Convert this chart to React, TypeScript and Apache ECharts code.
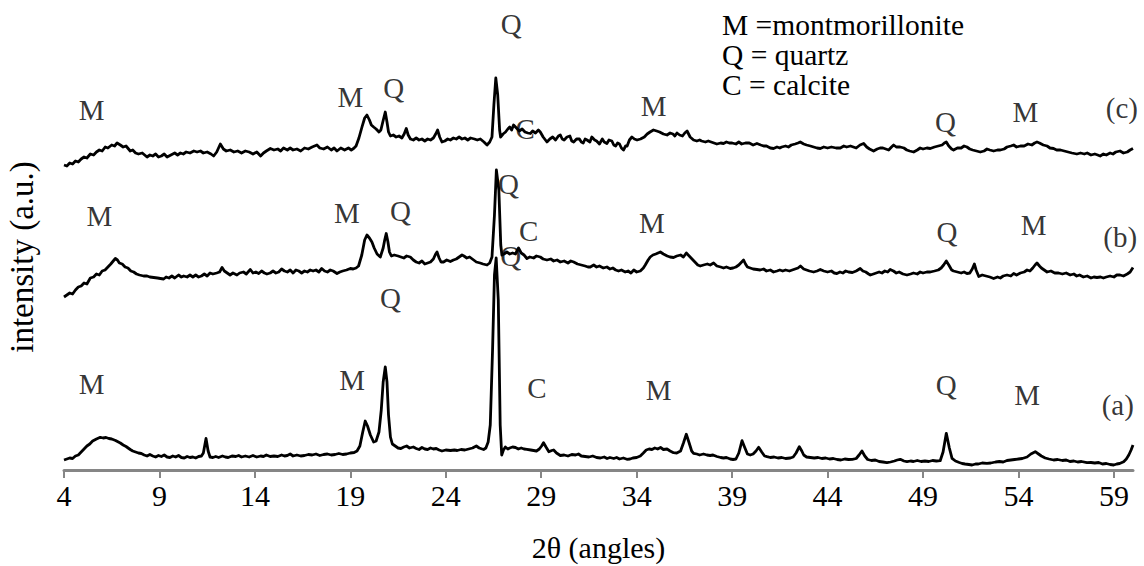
import React, { useEffect, useRef } from "react";
import * as echarts from "echarts";

// 2θ (deg) and intensity (a.u., offset traces as drawn)
const traceA: number[][] = [
  [4.0,10],[4.15,11],[4.3,12],[4.45,11.5],[4.6,14],[4.75,15],[4.9,18],[5.05,21],[5.2,24],[5.35,26],[5.5,29],[5.7,31],[5.9,32.7],[6.05,32],[6.2,32.5],[6.35,31.5],[6.5,31],[6.7,29.5],[6.95,27],[7.1,25],[7.25,23.5],[7.47,20.5],[7.6,19],[7.75,18],[7.9,17],[8.05,16.5],[8.2,15],[8.35,14],[8.5,15.5],[8.65,14],[8.8,13],[8.95,14.5],[9.1,13.5],[9.25,15],[9.4,13],[9.55,12.5],[9.7,14],[9.85,13],[10.0,14.5],[10.15,12.5],[10.3,12],[10.45,13.5],[10.6,12.5],[10.75,13],[10.9,12],[11.05,13.5],[11.2,14],[11.3,17],[11.44,31.5],[11.55,19],[11.65,13],[11.8,12.5],[11.95,13.5],[12.1,12.5],[12.3,14],[12.45,13],[12.6,12.5],[12.8,14],[13.0,13.5],[13.15,14.5],[13.3,13],[13.5,14],[13.7,13],[13.9,14.5],[14.1,13],[14.3,14],[14.45,13.5],[14.6,15],[14.8,13.5],[15.0,14],[15.2,13.5],[15.4,15],[15.55,14],[15.7,14.5],[15.85,16],[16.0,14],[16.2,15],[16.4,14],[16.6,14.5],[16.8,15.5],[17.0,15],[17.2,16],[17.4,14.5],[17.6,15.5],[17.8,16],[18.0,15],[18.2,15.5],[18.4,16.5],[18.6,15.5],[18.8,16],[19.0,17],[19.2,17.5],[19.35,19],[19.5,24],[19.65,38],[19.78,49],[19.9,44],[20.05,35],[20.22,28],[20.35,29],[20.5,38],[20.62,60],[20.72,88],[20.83,103],[20.92,88],[21.0,55],[21.1,33],[21.2,26],[21.35,24],[21.5,22],[21.65,21.5],[21.8,23],[21.95,24],[22.1,22],[22.3,23],[22.45,21.5],[22.6,20.5],[22.75,22.5],[22.9,21],[23.05,20.5],[23.2,22],[23.35,21],[23.5,21.5],[23.65,20],[23.8,19],[24.0,20],[24.25,19.5],[24.45,20],[24.6,19.5],[24.8,20.5],[25.0,20],[25.2,21],[25.4,22],[25.6,24],[25.75,22],[25.98,20.5],[26.1,22],[26.22,28],[26.33,45],[26.45,120],[26.55,195],[26.64,212],[26.75,170],[26.85,45],[26.93,15],[27.02,20],[27.12,23],[27.25,21],[27.35,22],[27.5,23],[27.65,22.5],[27.8,21],[27.95,22],[28.1,21],[28.25,20.7],[28.45,20],[28.6,19.5],[28.75,19],[28.9,21],[29.02,24],[29.12,27.3],[29.25,23],[29.4,18.3],[29.55,19.5],[29.65,20],[29.8,17],[30.0,14.5],[30.2,15],[30.4,14],[30.6,15.5],[30.8,15],[30.95,16],[31.1,14],[31.3,13.5],[31.5,13],[31.7,14],[31.9,12.5],[32.1,12],[32.3,13],[32.45,11.5],[32.6,12.5],[32.8,11.5],[32.95,12.5],[33.1,11],[33.3,12],[33.49,10.7],[33.65,11],[33.8,12],[34.0,12.5],[34.19,14],[34.35,17],[34.5,20],[34.65,21],[34.8,20.5],[34.95,22],[35.1,21],[35.25,22.5],[35.4,20.5],[35.59,21],[35.75,19],[35.93,17.3],[36.1,17],[36.3,19],[36.45,27],[36.6,35.7],[36.75,27],[36.88,19],[36.98,16.7],[37.15,16],[37.3,15],[37.5,16],[37.68,15],[37.85,14.5],[38.0,15],[38.2,13.5],[38.4,12.5],[38.55,12],[38.7,12.5],[38.9,11],[39.05,10.5],[39.2,11],[39.35,17],[39.52,29.3],[39.65,23],[39.8,16],[39.95,15],[40.1,16],[40.25,19],[40.39,22.7],[40.55,18],[40.7,14],[40.83,13.3],[41.0,12.5],[41.2,13],[41.4,12],[41.6,12.5],[41.8,11.5],[42.05,12],[42.2,13],[42.35,17],[42.52,23.3],[42.65,19],[42.75,15],[42.9,13],[43.1,12.5],[43.3,12],[43.5,12.5],[43.7,11.5],[43.9,12],[44.1,11],[44.3,11.5],[44.5,10.5],[44.7,10],[44.9,11],[45.1,10.5],[45.3,10.7],[45.5,11.5],[45.65,15],[45.8,19],[45.95,14],[46.1,10.5],[46.3,9.5],[46.5,10],[46.7,8.5],[46.9,8],[47.11,7.3],[47.3,8],[47.5,9],[47.65,10],[47.81,10.7],[48.0,9],[48.16,8.3],[48.35,9],[48.5,8.5],[48.7,9.5],[48.9,8.5],[49.1,9],[49.3,8.5],[49.5,9.5],[49.7,9],[49.9,9.3],[50.05,18],[50.22,36.7],[50.38,22],[50.52,11.7],[50.7,9],[50.9,7.5],[51.05,6.5],[51.2,6],[51.4,5.5],[51.57,5],[51.75,6],[51.9,6],[52.1,7],[52.35,6.7],[52.55,7],[52.8,8],[53.0,8.5],[53.2,8],[53.4,9.5],[53.6,10],[53.8,10.5],[54.0,11],[54.2,11.5],[54.45,13],[54.65,16],[54.88,18.3],[55.05,16],[55.2,14],[55.4,12],[55.6,11],[55.84,10],[56.05,10.5],[56.3,9.5],[56.5,10],[56.7,8.5],[56.9,9],[57.1,8],[57.3,8.5],[57.59,7.3],[57.8,7.5],[58.0,7],[58.2,7.5],[58.4,6],[58.6,6.5],[58.8,5.5],[58.99,5],[59.15,6],[59.3,6.5],[59.51,8.3],[59.65,11],[59.78,15],[59.9,20],[60.0,25]
];

const traceB: number[][] = [
  [4.0,173],[4.15,175],[4.3,177],[4.45,176],[4.6,180],[4.75,183],[4.9,184],[5.05,187],[5.2,186],[5.38,192],[5.55,193],[5.7,196],[5.85,195],[6.0,199],[6.15,200],[6.3,203],[6.45,206],[6.58,209],[6.69,211.5],[6.8,210],[6.9,207],[7.05,206],[7.2,203],[7.35,202],[7.5,199],[7.65,198],[7.8,196],[7.95,195],[8.17,194],[8.35,194],[8.5,193],[8.7,192.5],[8.9,192],[9.05,191.5],[9.22,191],[9.35,193],[9.5,192],[9.65,194],[9.8,192],[10.0,195],[10.15,193],[10.27,194],[10.45,193],[10.6,195],[10.75,193],[10.9,195],[11.05,193],[11.2,194],[11.35,196],[11.5,194],[11.65,197],[11.8,196],[12.0,197],[12.15,198],[12.28,202.5],[12.4,199],[12.55,197],[12.7,195],[12.85,197],[13.06,195],[13.2,197],[13.4,198],[13.55,196],[13.76,200.5],[13.9,197],[14.05,198],[14.2,196.5],[14.35,199],[14.5,197],[14.63,196],[14.8,197],[14.95,199],[15.1,197],[15.25,198],[15.4,201],[15.55,199],[15.7,198],[15.85,200],[16.0,197],[16.15,200],[16.3,199],[16.45,197],[16.6,199],[16.75,198],[16.9,200],[17.05,199],[17.2,200],[17.35,198],[17.5,201.5],[17.65,199],[17.8,198],[17.95,200],[18.1,199],[18.3,196.5],[18.45,198],[18.6,199],[18.8,200],[19.0,201.5],[19.15,201],[19.3,202],[19.43,204],[19.6,215],[19.75,230],[19.87,235],[20.0,232],[20.13,228],[20.25,222],[20.4,216],[20.57,213],[20.72,222],[20.8,230],[20.88,236.5],[20.97,228],[21.05,218],[21.15,214],[21.3,215],[21.5,214],[21.65,213],[21.8,212],[21.95,214],[22.14,213],[22.3,210],[22.45,208],[22.6,207],[22.75,209],[22.9,206],[23.05,207],[23.2,208],[23.35,211],[23.47,216],[23.54,218],[23.65,212],[23.75,208],[23.88,208],[24.05,210],[24.24,208.5],[24.4,210],[24.55,211],[24.7,213],[24.85,215],[24.95,214],[25.1,212],[25.25,213],[25.46,210],[25.6,208],[25.8,207],[25.95,206],[26.16,205],[26.3,207],[26.42,213],[26.55,255],[26.65,300],[26.78,280],[26.88,225],[26.94,215],[27.05,216],[27.2,218],[27.35,216],[27.5,217],[27.65,216],[27.81,222],[27.95,217],[28.1,215],[28.25,211.5],[28.4,213],[28.6,212],[28.75,214],[28.95,213],[29.1,211],[29.3,210],[29.5,211],[29.65,209],[29.83,210],[30.0,208],[30.2,209],[30.4,207],[30.55,209],[30.7,208],[30.9,206],[31.1,205],[31.3,204],[31.45,203],[31.57,203],[31.75,205],[31.9,203],[32.05,204],[32.25,202],[32.44,203],[32.6,201],[32.75,202],[32.9,200],[33.05,199],[33.2,200],[33.4,198],[33.55,199],[33.7,197],[33.85,200],[34.0,198],[34.19,199],[34.35,202],[34.45,205],[34.6,210],[34.71,213],[34.85,215],[35.0,216],[35.12,217],[35.24,218],[35.4,216],[35.6,214],[35.75,213],[35.93,212.5],[36.1,214],[36.3,215],[36.45,213],[36.6,217],[36.75,214],[36.9,211],[37.05,208],[37.2,205],[37.33,204],[37.5,205],[37.7,206],[37.85,205],[38.03,207],[38.2,204],[38.4,203],[38.55,202],[38.7,203],[38.9,201.5],[39.05,202],[39.2,203],[39.35,205],[39.5,208],[39.6,210],[39.7,206],[39.8,203],[39.95,202],[40.1,201],[40.3,200.5],[40.47,200],[40.65,201],[40.8,199],[41.0,200],[41.17,198],[41.35,199],[41.5,200],[41.65,199],[41.8,200],[42.0,199],[42.15,200],[42.3,201],[42.45,202],[42.58,204],[42.75,201],[42.9,200],[43.05,199],[43.27,198],[43.45,199],[43.62,200.5],[43.8,199],[44.0,198],[44.2,199],[44.35,197],[44.49,196.5],[44.65,198],[44.8,197],[44.95,199],[45.1,198],[45.3,197.5],[45.5,199],[45.71,201.5],[45.85,199],[46.0,198],[46.15,196],[46.24,195],[46.4,196],[46.55,197],[46.7,198],[46.85,197],[47.0,199],[47.15,198],[47.28,200.5],[47.45,199],[47.6,197],[47.75,198],[47.95,196],[48.16,195],[48.35,196],[48.5,197],[48.7,196],[48.85,198],[49.0,197],[49.2,198],[49.38,198],[49.6,199],[49.8,200],[49.95,202],[50.08,205],[50.22,209],[50.35,205],[50.5,200],[50.6,199],[50.8,198],[51.0,197],[51.15,198],[51.3,196.5],[51.45,197],[51.58,201],[51.69,206],[51.78,200],[51.92,193.5],[52.1,195],[52.3,194],[52.5,193],[52.7,191.5],[52.9,193],[53.05,192],[53.2,194],[53.4,195],[53.6,194],[53.75,196.5],[53.9,195],[54.1,197],[54.3,198],[54.45,200],[54.6,199],[54.75,202],[54.87,205],[54.97,207],[55.1,204],[55.2,202],[55.35,200],[55.5,198],[55.7,199],[55.9,197],[56.1,197],[56.3,196],[56.5,197],[56.71,195],[56.9,196],[57.05,194],[57.2,195],[57.4,193],[57.6,194],[57.8,192],[57.95,193],[58.11,192.5],[58.3,193],[58.45,192],[58.6,193],[58.8,194],[59.0,193],[59.15,195],[59.32,195],[59.5,194],[59.7,196],[59.85,198],[60.0,202.5]
];

const traceC: number[][] = [
  [4.0,305],[4.15,304],[4.3,307],[4.45,306],[4.6,309],[4.75,308],[4.9,311],[5.05,313],[5.2,312],[5.38,316],[5.55,315],[5.7,318],[5.85,320],[6.0,319],[6.16,323],[6.3,322],[6.5,325],[6.65,324],[6.78,327],[6.95,325],[7.1,323],[7.25,324],[7.47,319],[7.6,320],[7.75,317],[7.9,316],[8.1,317],[8.35,313],[8.5,315],[8.65,314],[8.8,316],[8.95,313],[9.1,314],[9.25,316],[9.4,313],[9.6,315],[9.8,317],[9.95,315],[10.1,317],[10.25,316],[10.4,318],[10.6,317],[10.8,319],[10.97,318],[11.15,319],[11.3,317],[11.5,318],[11.7,316],[11.84,314],[12.0,318],[12.19,326],[12.35,321],[12.5,319],[12.71,320],[12.9,318],[13.1,319],[13.3,317],[13.5,319],[13.7,318],[13.9,316],[14.1,318],[14.3,314],[14.45,317],[14.6,319],[14.81,321.5],[15.0,320],[15.2,321],[15.35,319],[15.5,322],[15.7,320],[15.85,322],[16.0,320],[16.2,321],[16.4,319],[16.6,322],[16.8,321],[17.0,323],[17.25,325],[17.4,322],[17.6,321],[17.8,323],[18.0,320],[18.15,322],[18.3,319],[18.5,322],[18.7,320],[18.9,322],[19.05,320],[19.17,321.5],[19.3,324],[19.45,332],[19.61,343],[19.75,352],[19.87,355],[20.0,350],[20.1,345],[20.22,343],[20.35,341],[20.5,338],[20.6,340],[20.7,348],[20.83,358],[20.92,348],[21.0,338],[21.1,334],[21.25,335],[21.4,333],[21.55,334],[21.7,332],[21.82,336],[21.93,341.5],[22.03,335],[22.15,331],[22.3,330],[22.45,332],[22.6,330],[22.75,331],[22.9,329],[23.05,331],[23.2,330],[23.35,332],[23.47,336],[23.57,340],[23.68,333],[23.8,328],[23.95,329],[24.1,331],[24.24,330],[24.4,332],[24.55,331],[24.7,333],[24.85,331],[25.0,332],[25.15,330],[25.3,332],[25.5,331],[25.65,330],[25.81,331],[26.0,328],[26.16,325],[26.3,328],[26.42,333],[26.52,365],[26.62,392],[26.72,375],[26.82,340],[26.87,333],[27.0,336],[27.13,338],[27.25,341],[27.35,343],[27.45,340],[27.55,345],[27.7,342],[27.85,339],[28.0,341],[28.15,338],[28.3,337],[28.43,336.5],[28.55,339],[28.7,337],[28.85,340],[28.95,338],[29.1,333],[29.3,328],[29.45,331],[29.6,333],[29.75,330],[29.9,334],[30.0,335],[30.1,331],[30.2,330],[30.35,333],[30.5,334],[30.6,329],[30.7,328],[30.85,331],[31.0,331],[31.1,328],[31.2,327],[31.3,331],[31.4,330],[31.55,328],[31.65,333],[31.8,330],[31.9,329],[32.05,326],[32.2,331],[32.3,328],[32.44,326.5],[32.55,330],[32.7,329],[32.8,325],[32.9,324],[33.0,327],[33.1,326],[33.2,322],[33.31,320],[33.42,324],[33.5,324],[33.62,330],[33.75,333],[33.88,331],[34.02,330],[34.2,331],[34.4,333],[34.55,336],[34.7,338],[34.88,340],[35.05,339],[35.2,338],[35.4,336],[35.59,335],[35.75,337],[35.9,336],[36.0,334],[36.11,337],[36.25,335],[36.4,334],[36.52,337],[36.64,339],[36.8,333],[36.98,330],[37.15,329],[37.3,330],[37.4,329],[37.6,328],[37.75,329],[37.9,328],[38.05,327],[38.2,326],[38.4,327],[38.55,326.5],[38.7,328],[38.85,327],[39.0,327],[39.2,326],[39.35,328],[39.5,326],[39.7,327],[39.9,327],[40.1,325],[40.3,326.5],[40.5,325],[40.65,324],[40.8,324],[41.0,322],[41.17,321.5],[41.35,323],[41.5,322],[41.6,323],[41.8,324],[41.95,323],[42.1,325],[42.3,326],[42.45,327],[42.57,328],[42.75,326],[42.9,325],[43.1,324],[43.27,323],[43.45,322],[43.62,321.5],[43.8,323],[44.0,322],[44.2,323],[44.45,322],[44.67,322],[44.85,324],[45.0,323],[45.2,324],[45.35,323],[45.5,322],[45.7,325],[45.89,326.5],[46.05,323],[46.2,321],[46.41,319],[46.6,321],[46.75,322],[46.9,322],[47.05,321],[47.2,320],[47.35,323],[47.46,325],[47.6,323],[47.8,323],[48.0,322],[48.15,320],[48.3,319],[48.51,318],[48.7,320],[48.85,322],[49.0,321],[49.2,322],[49.38,321.5],[49.6,323],[49.8,324],[50.0,325],[50.12,327],[50.22,328],[50.35,324],[50.5,321],[50.6,320],[50.8,322],[51.0,322],[51.15,324],[51.3,323],[51.45,321],[51.6,320],[51.8,319],[52.0,318],[52.2,319],[52.35,321],[52.5,320],[52.7,319],[52.9,320],[53.05,320],[53.25,321],[53.4,323],[53.6,324],[53.75,325],[53.9,323],[54.1,324],[54.3,324],[54.5,326],[54.7,325],[54.85,327],[54.97,328],[55.1,327],[55.3,325],[55.5,324],[55.65,322],[55.84,321.5],[56.0,320],[56.2,320],[56.4,319],[56.6,318],[56.8,317],[57.06,316],[57.25,317],[57.45,316],[57.6,317],[57.8,315],[58.0,316],[58.15,315],[58.28,314],[58.45,316],[58.6,315],[58.8,317],[58.95,316],[59.1,318],[59.32,319],[59.5,317],[59.7,318],[59.85,320],[60.0,321.5]
];

// phase labels: [2θ, intensity, text]
const peakLabels: [number, number, string][] = [
  [5.45, 360, "M"], [19.0, 373, "M"], [21.27, 382, "Q"], [27.43, 446, "Q"], [28.16, 341, "C"],
  [34.89, 364, "M"], [50.17, 348, "Q"], [54.36, 358, "M"], [59.42, 362, "(c)"],
  [5.86, 254, "M"], [18.82, 257, "M"], [21.62, 259, "Q"], [27.29, 286, "Q"], [28.34, 239, "C"],
  [34.8, 247, "M"], [50.25, 238, "Q"], [54.79, 245, "M"], [59.33, 233, "(b)"],
  [5.45, 86, "M"], [19.09, 90, "M"], [21.1, 172, "Q"], [27.4, 214, "Q"], [28.78, 82, "C"],
  [35.15, 80, "M"], [50.22, 85, "Q"], [54.45, 75, "M"], [59.2, 65, "(a)"]
];

const keyLines = ["M =montmorillonite", "Q = quartz", "C = calcite"];
const xTicks = [4, 9, 14, 19, 24, 29, 34, 39, 44, 49, 54, 59];

const FONT = "Liberation Serif";

export default function App() {
  const ref = useRef<HTMLDivElement>(null);
  useEffect(() => {
    if (!ref.current) return;
    const chart = echarts.init(ref.current, undefined, { renderer: "svg" });
    const lineSeries = (data: number[][]) => ({
      type: "line",
      data,
      showSymbol: false,
      symbol: "none",
      clip: false,
      lineStyle: { color: "#000", width: 2.8, join: "round" },
      silent: true,
    });
    chart.setOption({
      animation: false,
      backgroundColor: "#fff",
      textStyle: { fontFamily: FONT },
      grid: { left: 64, right: 11, top: 0, bottom: 96, containLabel: false, outerBoundsMode: "none" },
      xAxis: {
        type: "value",
        min: 4,
        max: 60,
        interval: 5,
        name: "2θ (angles)",
        nameLocation: "middle",
        nameGap: 62,
        nameTextStyle: { fontSize: 30, color: "#000", fontFamily: FONT },
        axisLine: { show: true, lineStyle: { color: "#868686", width: 3 } },
        axisTick: { show: true, length: 8, lineStyle: { color: "#868686", width: 2 }, customValues: xTicks },
        axisLabel: { fontSize: 30, color: "#000", margin: 10, fontFamily: FONT, customValues: xTicks },
        splitLine: { show: false },
      },
      yAxis: {
        type: "value",
        min: 0,
        max: 470,
        axisLine: { show: false },
        axisTick: { show: false },
        axisLabel: { show: false },
        splitLine: { show: false },
      },
      series: [
        lineSeries(traceA),
        lineSeries(traceB),
        lineSeries(traceC),
        {
          type: "scatter",
          symbolSize: 1,
          itemStyle: { color: "rgba(0,0,0,0)" },
          silent: true,
          clip: false,
          data: peakLabels.map(([x, y, t]) => ({ name: t, value: [x, y] })),
          label: {
            show: true,
            position: "inside",
            formatter: "{b}",
            fontSize: 29,
            color: "#000",
            fontFamily: FONT,
          },
        },
      ],
      graphic: [
        {
          type: "text",
          x: 22,
          y: 257,
          rotation: Math.PI / 2,
          style: {
            text: "intensity (a.u.)",
            fontSize: 33,
            fill: "#000",
            fontFamily: FONT,
            textAlign: "center",
            textVerticalAlign: "middle",
          },
        },
        {
          type: "group",
          left: 722,
          top: 10,
          children: keyLines.map((t, i) => ({
            type: "text",
            x: 0,
            y: i * 30,
            style: { text: t, fontSize: 29.5, fill: "#000", fontFamily: FONT },
          })),
        },
      ],
    });
    return () => chart.dispose();
  }, []);
  return (
    <div
      ref={ref}
      style={{ position: "fixed", left: 0, top: 0, width: 1144, height: 566, background: "#fff" }}
    />
  );
}
